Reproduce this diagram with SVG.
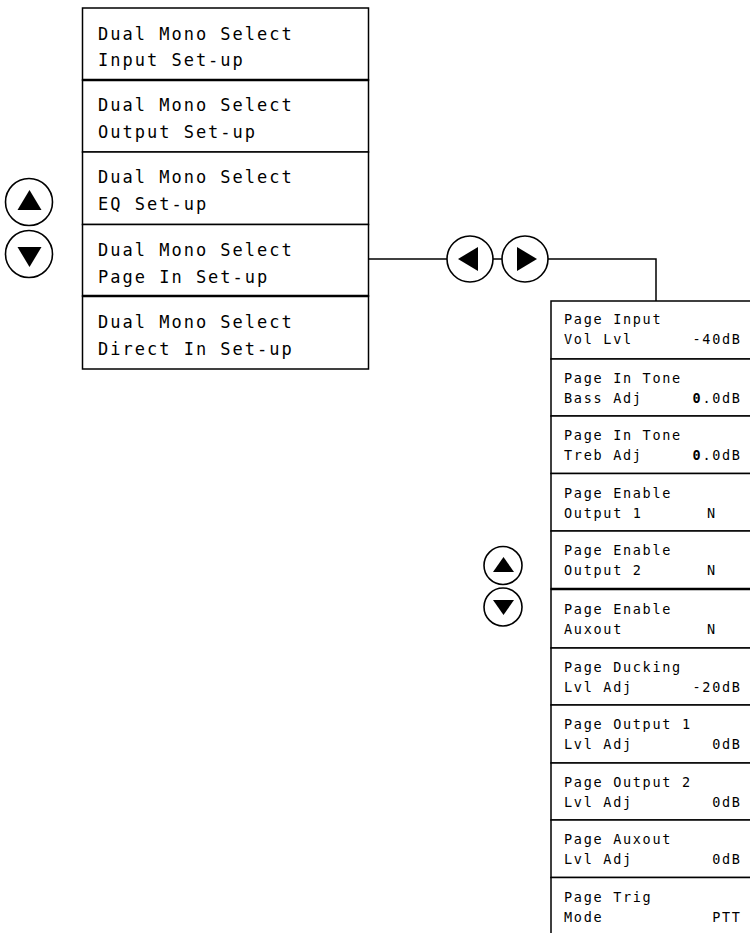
<svg xmlns="http://www.w3.org/2000/svg" width="750" height="933" viewBox="0 0 750 933">
<style>
  .box { fill: #fff; stroke: #000; stroke-width: 1.5; }
  .thick { stroke: #000; stroke-width: 2.6; }
  .conn { fill: none; stroke: #000; stroke-width: 1.5; }
  .btn { fill: #fff; stroke: #000; stroke-width: 1.6; }
  .tri { fill: #000; }
  .lt { font-family: "DejaVu Sans Mono", "Liberation Mono", monospace; font-size: 17px; letter-spacing: 2px; fill: #000; }
  .rt { font-family: "DejaVu Sans Mono", "Liberation Mono", monospace; font-size: 13.5px; letter-spacing: 1.7px; fill: #000; }
  .val { text-anchor: end; }
</style>
<rect x="0" y="0" width="750" height="933" fill="#fff"/>

<g id="connectors">
  <polyline class="conn" points="369,259 447,259"/>
  <polyline class="conn" points="493,259 502,259"/>
  <polyline class="conn" points="548,259 656,259 656,301"/>
</g>

<!-- Left menu -->
<g id="left-input">
  <rect class="box" x="82.5" y="8" width="286" height="72"/>
  <text class="lt" x="98" y="39.5">Dual Mono Select</text>
  <text class="lt" x="98" y="66">Input Set-up</text>
</g>
<g id="left-output">
  <rect class="box" x="82.5" y="80" width="286" height="72"/>
  <text class="lt" x="98" y="111">Dual Mono Select</text>
  <text class="lt" x="98" y="137.7">Output Set-up</text>
</g>
<g id="left-eq">
  <rect class="box" x="82.5" y="152" width="286" height="72.5"/>
  <text class="lt" x="98" y="183.3">Dual Mono Select</text>
  <text class="lt" x="98" y="210">EQ Set-up</text>
</g>
<g id="left-page">
  <rect class="box" x="82.5" y="224.5" width="286" height="71.5"/>
  <text class="lt" x="98" y="256">Dual Mono Select</text>
  <text class="lt" x="98" y="282.7">Page In Set-up</text>
</g>
<g id="left-direct">
  <rect class="box" x="82.5" y="296" width="286" height="73"/>
  <text class="lt" x="98" y="328">Dual Mono Select</text>
  <text class="lt" x="98" y="355">Direct In Set-up</text>
</g>
<g id="left-thick">
  <line class="thick" x1="82.5" y1="80" x2="368.5" y2="80"/>
  <line class="thick" x1="82.5" y1="296" x2="368.5" y2="296"/>
</g>

<!-- Left up/down buttons -->
<g id="left-up">
  <circle class="btn" cx="29" cy="202" r="23.5"/>
  <polygon class="tri" points="17.5,210 41.5,210 29.5,190"/>
</g>
<g id="left-down">
  <circle class="btn" cx="29" cy="254" r="23.5"/>
  <polygon class="tri" points="17.5,247 41.5,247 29.5,267"/>
</g>

<!-- Left/right buttons -->
<g id="btn-left">
  <circle class="btn" cx="470" cy="259" r="23"/>
  <polygon class="tri" points="458,259 478,247 478,271"/>
</g>
<g id="btn-right">
  <circle class="btn" cx="525" cy="259" r="23"/>
  <polygon class="tri" points="537,259 517,247 517,271"/>
</g>

<!-- Right up/down buttons -->
<g id="right-up">
  <circle class="btn" cx="503" cy="565.5" r="19"/>
  <polygon class="tri" points="493,572 514,572 503.5,557"/>
</g>
<g id="right-down">
  <circle class="btn" cx="503" cy="607" r="19"/>
  <polygon class="tri" points="493,600 514,600 503.5,615"/>
</g>

<!-- Right menu -->
<g id="r-vol">
  <rect class="box" x="551" y="301" width="220" height="58"/>
  <text class="rt" x="564" y="324">Page Input</text>
  <text class="rt" x="564" y="344">Vol Lvl</text>
  <text class="rt val" x="741.7" y="344">-40dB</text>
</g>
<g id="r-bass">
  <rect class="box" x="551" y="359" width="220" height="57"/>
  <text class="rt" x="564" y="383">Page In Tone</text>
  <text class="rt" x="564" y="403">Bass Adj</text>
  <text class="rt val" x="741.7" y="403"><tspan font-weight="bold">0</tspan>.0dB</text>
</g>
<g id="r-treb">
  <rect class="box" x="551" y="416" width="220" height="57.5"/>
  <text class="rt" x="564" y="440">Page In Tone</text>
  <text class="rt" x="564" y="460">Treb Adj</text>
  <text class="rt val" x="741.7" y="460"><tspan font-weight="bold">0</tspan>.0dB</text>
</g>
<g id="r-out1">
  <rect class="box" x="551" y="473.5" width="220" height="57.5"/>
  <text class="rt" x="564" y="497.5">Page Enable</text>
  <text class="rt" x="564" y="517.5">Output 1</text>
  <text class="rt" x="707" y="517.5">N</text>
</g>
<g id="r-out2">
  <rect class="box" x="551" y="531" width="220" height="58"/>
  <text class="rt" x="564" y="555">Page Enable</text>
  <text class="rt" x="564" y="575">Output 2</text>
  <text class="rt" x="707" y="575">N</text>
</g>
<g id="r-aux">
  <rect class="box" x="551" y="589" width="220" height="59"/>
  <text class="rt" x="564" y="613.5">Page Enable</text>
  <text class="rt" x="564" y="633.5">Auxout</text>
  <text class="rt" x="707" y="633.5">N</text>
</g>
<g id="r-duck">
  <rect class="box" x="551" y="648" width="220" height="57"/>
  <text class="rt" x="564" y="672">Page Ducking</text>
  <text class="rt" x="564" y="692">Lvl Adj</text>
  <text class="rt val" x="741.7" y="692">-20dB</text>
</g>
<g id="r-o1lvl">
  <rect class="box" x="551" y="705" width="220" height="58"/>
  <text class="rt" x="564" y="729">Page Output 1</text>
  <text class="rt" x="564" y="749">Lvl Adj</text>
  <text class="rt val" x="741.7" y="749">0dB</text>
</g>
<g id="r-o2lvl">
  <rect class="box" x="551" y="763" width="220" height="57"/>
  <text class="rt" x="564" y="787">Page Output 2</text>
  <text class="rt" x="564" y="807">Lvl Adj</text>
  <text class="rt val" x="741.7" y="807">0dB</text>
</g>
<g id="r-auxlvl">
  <rect class="box" x="551" y="820" width="220" height="57.5"/>
  <text class="rt" x="564" y="844">Page Auxout</text>
  <text class="rt" x="564" y="864">Lvl Adj</text>
  <text class="rt val" x="741.7" y="864">0dB</text>
</g>
<g id="r-trig">
  <rect class="box" x="551" y="877.5" width="220" height="80"/>
  <text class="rt" x="564" y="901.5">Page Trig</text>
  <text class="rt" x="564" y="921.5">Mode</text>
  <text class="rt val" x="741.7" y="921.5">PTT</text>
</g>
<g id="right-thick">
  <line class="thick" x1="551" y1="589" x2="760" y2="589"/>
</g>
</svg>
